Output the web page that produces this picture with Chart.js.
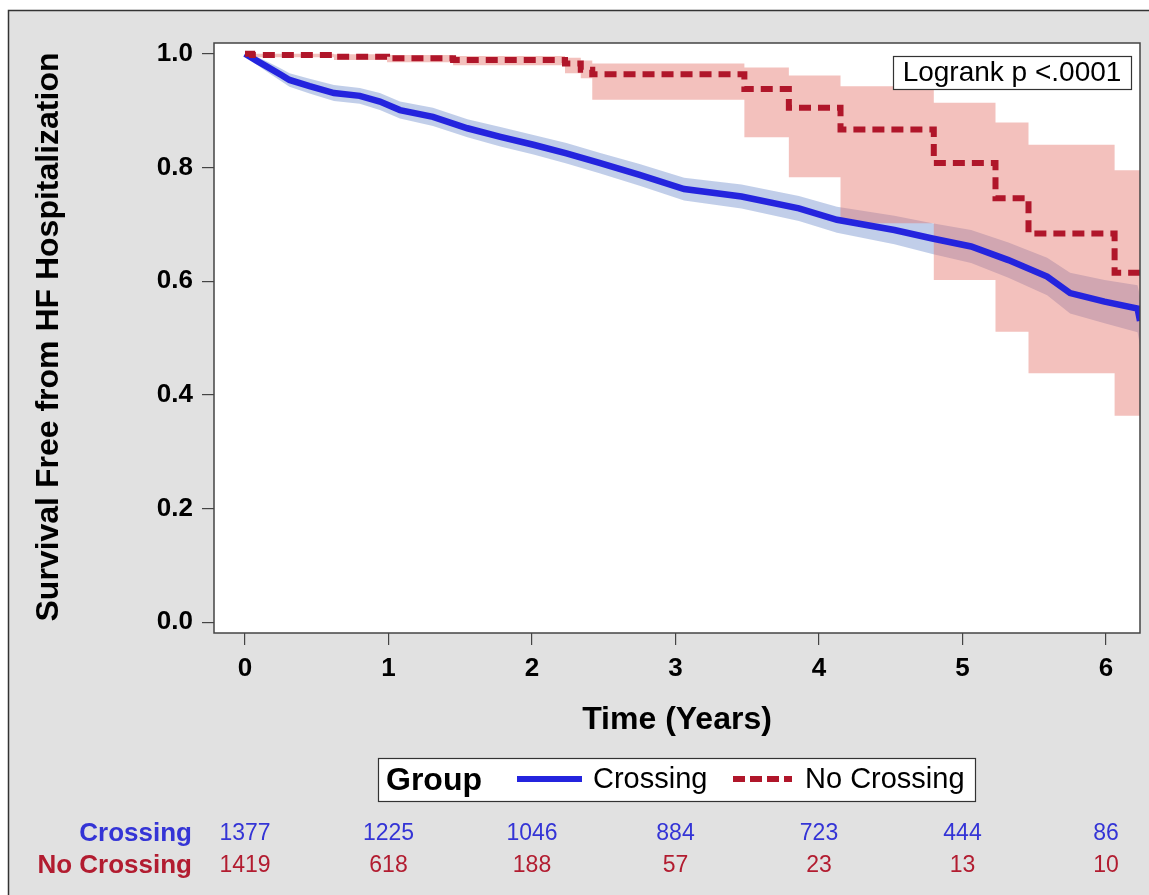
<!DOCTYPE html>
<html><head><meta charset="utf-8">
<script src="https://cdn.jsdelivr.net/npm/chart.js@4.4.0/dist/chart.umd.min.js"></script>
<style>html,body{margin:0;padding:0;background:#fff;}canvas{display:block;}</style>
</head><body>
<canvas id="c" width="1149" height="895"></canvas>
<script>
// ---- data ----
const xTicks = [0, 1, 2, 3, 4, 5, 6];
const yTicks = [0, 0.2, 0.4, 0.6, 0.8, 1.0];
const groups = ['Crossing', 'No Crossing'];
const pValueText = 'Logrank p <.0001';

// Crossing (blue) KM estimate and pointwise CI
const blueT  = [0, 0.08, 0.15, 0.25, 0.31, 0.45, 0.62, 0.80, 0.94, 1.08, 1.31, 1.55, 1.78, 2.01, 2.24, 2.47, 2.75, 3.06, 3.46, 3.86, 4.125, 4.525, 4.79, 5.06, 5.32, 5.59, 5.75, 5.99, 6.22, 6.237];
const blueS  = [1.000, 0.988, 0.978, 0.963, 0.954, 0.943, 0.931, 0.926, 0.916, 0.901, 0.889, 0.869, 0.854, 0.840, 0.825, 0.808, 0.787, 0.762, 0.749, 0.728, 0.708, 0.690, 0.675, 0.661, 0.637, 0.608, 0.579, 0.564, 0.552, 0.530];
const blueUp = [1.000, 0.995, 0.987, 0.974, 0.966, 0.956, 0.945, 0.940, 0.931, 0.916, 0.905, 0.885, 0.871, 0.857, 0.843, 0.826, 0.806, 0.782, 0.770, 0.750, 0.731, 0.715, 0.702, 0.690, 0.668, 0.641, 0.615, 0.602, 0.593, 0.573];
const blueLo = [1.000, 0.981, 0.969, 0.952, 0.942, 0.930, 0.917, 0.912, 0.901, 0.886, 0.873, 0.853, 0.837, 0.823, 0.807, 0.790, 0.768, 0.742, 0.728, 0.706, 0.685, 0.665, 0.648, 0.632, 0.606, 0.575, 0.543, 0.526, 0.510, 0.487];

// No Crossing (red) KM step estimate and CI
const redT  = [0, 0.05, 0.62, 0.99, 1.45, 2.23, 2.34, 2.42, 3.48, 3.79, 4.15, 4.80, 5.23, 5.46, 6.06, 6.24];
const redS  = [1.000, 0.998, 0.995, 0.992, 0.989, 0.983, 0.972, 0.964, 0.938, 0.905, 0.867, 0.808, 0.746, 0.684, 0.615, 0.615];
const redUp = [1.000, 1.000, 0.999, 0.998, 0.996, 0.993, 0.988, 0.983, 0.976, 0.962, 0.943, 0.914, 0.879, 0.840, 0.795, 0.795];
const redLo = [1.000, 0.994, 0.989, 0.985, 0.980, 0.966, 0.957, 0.919, 0.853, 0.783, 0.702, 0.602, 0.511, 0.438, 0.363, 0.363];

// Number at risk
const atRiskCrossing   = [1377, 1225, 1046, 884, 723, 444, 86];
const atRiskNoCrossing = [1419, 618, 188, 57, 23, 13, 10];

// ---- styles ----
const W = 1149, H = 895;
const FONT = "'Liberation Sans', Arial, Helvetica, sans-serif";
const BLUE = 'rgb(36,36,222)';
const RED = 'rgb(176,22,42)';
const BLUE_TXT = 'rgb(52,52,214)';
const RED_TXT = 'rgb(178,28,48)';
const pts = (t, v) => t.map((x, i) => ({x: x, y: v[i]}));

const deco = {
  id: 'deco',
  beforeDraw(chart) {
    const {ctx, chartArea: a} = chart;
    ctx.save();
    ctx.fillStyle = '#fff'; ctx.fillRect(0, 0, W, H);
    ctx.fillStyle = '#e1e1e1'; ctx.fillRect(8, 10, W - 8, H - 10);
    ctx.strokeStyle = '#333'; ctx.lineWidth = 1.5;
    ctx.beginPath(); ctx.moveTo(8.5, H); ctx.lineTo(8.5, 10.5); ctx.lineTo(W, 10.5); ctx.stroke();
    ctx.fillStyle = '#fff'; ctx.fillRect(a.left, a.top, a.right - a.left, a.bottom - a.top);
    ctx.restore();
  },
  afterDraw(chart) {
    const {ctx, chartArea: a, scales} = chart;
    const xs = scales.x;
    ctx.save();
    // frame
    ctx.strokeStyle = '#444'; ctx.lineWidth = 1.5;
    ctx.strokeRect(a.left, a.top, a.right - a.left, a.bottom - a.top);
    // logrank box
    ctx.fillStyle = '#fff'; ctx.fillRect(893, 56, 238, 33);
    ctx.strokeStyle = '#333'; ctx.lineWidth = 1.2; ctx.strokeRect(893.5, 56.5, 238, 33);
    ctx.fillStyle = '#000'; ctx.font = '28px ' + FONT; ctx.textAlign = 'center'; ctx.textBaseline = 'middle';
    ctx.fillText(pValueText, 1012, 73);
    // y title
    ctx.save();
    ctx.translate(49, 337); ctx.rotate(-Math.PI / 2);
    ctx.font = 'bold 32px ' + FONT; ctx.fillStyle = '#000'; ctx.textAlign = 'center'; ctx.textBaseline = 'middle';
    ctx.fillText('Survival Free from HF Hospitalization', 0, 0);
    ctx.restore();
    // x title
    ctx.font = 'bold 32px ' + FONT; ctx.fillStyle = '#000'; ctx.textAlign = 'center'; ctx.textBaseline = 'middle';
    ctx.fillText('Time (Years)', 677, 720);
    // legend
    ctx.fillStyle = '#fff'; ctx.fillRect(378, 758, 597, 43);
    ctx.strokeStyle = '#333'; ctx.lineWidth = 1.2; ctx.strokeRect(378.5, 758.5, 597, 43);
    ctx.fillStyle = '#000'; ctx.textAlign = 'left'; ctx.textBaseline = 'middle';
    ctx.font = 'bold 32px ' + FONT; ctx.fillText('Group', 386, 781);
    ctx.font = '29px ' + FONT;
    ctx.fillText(groups[0], 593, 780);
    ctx.fillText(groups[1], 805, 780);
    ctx.lineWidth = 6;
    ctx.strokeStyle = BLUE; ctx.beginPath(); ctx.moveTo(517, 779); ctx.lineTo(582, 779); ctx.stroke();
    ctx.strokeStyle = RED; ctx.setLineDash([12, 5]); ctx.beginPath(); ctx.moveTo(733, 779); ctx.lineTo(792, 779); ctx.stroke();
    ctx.setLineDash([]);
    // risk table
    ctx.textBaseline = 'middle';
    ctx.font = 'bold 26px ' + FONT; ctx.textAlign = 'right';
    ctx.fillStyle = BLUE_TXT; ctx.fillText(groups[0], 192, 834);
    ctx.fillStyle = RED_TXT; ctx.fillText(groups[1], 192, 866);
    ctx.font = '23px ' + FONT; ctx.textAlign = 'center';
    xTicks.forEach((t, i) => {
      const px = xs.getPixelForValue(t);
      ctx.fillStyle = BLUE_TXT; ctx.fillText(String(atRiskCrossing[i]), px, 834);
      ctx.fillStyle = RED_TXT; ctx.fillText(String(atRiskNoCrossing[i]), px, 866);
    });
    ctx.restore();
  }
};

new Chart(document.getElementById('c'), {
  type: 'line',
  data: {
    datasets: [
      {label: groups[1], data: pts(redT, redS), stepped: true, borderColor: RED, borderWidth: 6, borderDash: [12, 7], pointRadius: 0, fill: false},
      {label: groups[0], data: pts(blueT, blueS), borderColor: BLUE, borderWidth: 6.5, pointRadius: 0, tension: 0, fill: false},
      {label: 'red upper', data: pts(redT, redUp), stepped: true, borderColor: 'transparent', borderWidth: 0, pointRadius: 0, fill: '+1', backgroundColor: 'rgba(228,118,108,0.45)'},
      {label: 'red lower', data: pts(redT, redLo), stepped: true, borderColor: 'transparent', borderWidth: 0, pointRadius: 0, fill: false},
      {label: 'blue upper', data: pts(blueT, blueUp), borderColor: 'transparent', borderWidth: 0, pointRadius: 0, fill: '+1', backgroundColor: 'rgba(100,132,200,0.40)'},
      {label: 'blue lower', data: pts(blueT, blueLo), borderColor: 'transparent', borderWidth: 0, pointRadius: 0, fill: false}
    ]
  },
  options: {
    responsive: false,
    animation: false,
    devicePixelRatio: 1,
    layout: {padding: {left: 0, top: 43, right: 9, bottom: 0}},
    plugins: {legend: {display: false}, tooltip: {enabled: false}},
    scales: {
      x: {
        type: 'linear', min: -0.216, max: 6.237,
        afterBuildTicks: s => { s.ticks = xTicks.map(v => ({value: v})); },
        afterFit: s => { s.height = 262; },
        ticks: {color: '#000', font: {family: FONT, size: 26, weight: 'bold'}, padding: 8, maxRotation: 0, autoSkip: false, callback: v => String(v)},
        grid: {display: true, drawOnChartArea: false, drawTicks: true, tickLength: 12, color: '#444', lineWidth: 1.2},
        border: {display: false}
      },
      y: {
        type: 'linear', min: -0.019, max: 1.019,
        afterBuildTicks: s => { s.ticks = yTicks.map(v => ({value: v})); },
        afterFit: s => { s.width = 214; },
        ticks: {color: '#000', font: {family: FONT, size: 26, weight: 'bold'}, padding: 9, autoSkip: false, callback: v => Number(v).toFixed(1)},
        grid: {display: true, drawOnChartArea: false, drawTicks: true, tickLength: 12, color: '#444', lineWidth: 1.2},
        border: {display: false}
      }
    }
  },
  plugins: [deco]
});
</script>
</body></html>
